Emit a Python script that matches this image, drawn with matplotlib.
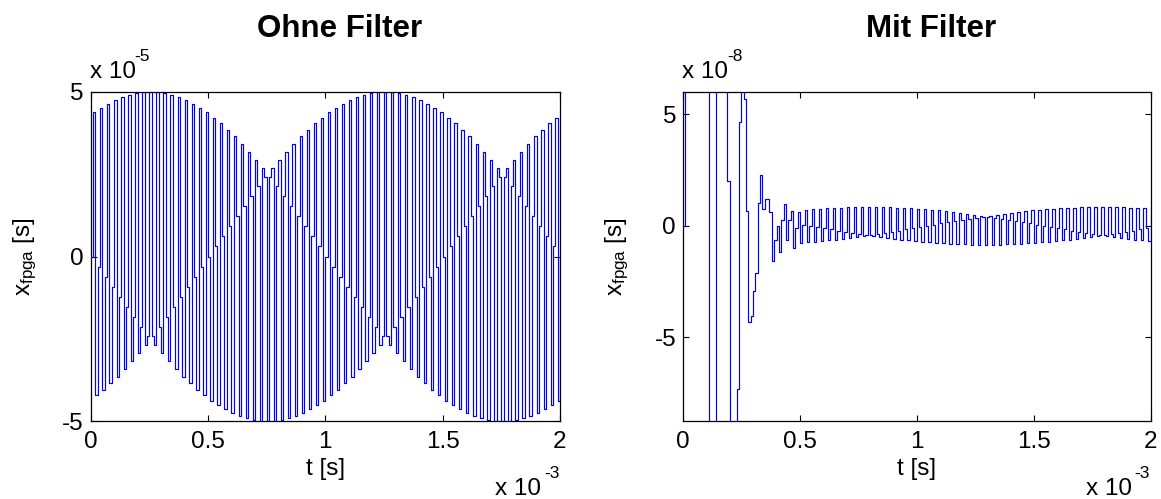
import numpy as np
import matplotlib
matplotlib.use("Agg")
import matplotlib.pyplot as plt
from matplotlib.ticker import FuncFormatter

plt.rcParams['font.family'] = ['Liberation Sans', 'DejaVu Sans']
plt.rcParams['mathtext.fontset'] = 'custom'
plt.rcParams['mathtext.rm'] = 'Liberation Sans'
plt.rcParams['mathtext.it'] = 'Liberation Sans'

# sample period of the fpga values [s]
Ts = 1e-5

# x_fpga without filter, units of 1e-5 s, samples 0..200
ohne_filter = [
    0, 4.38, -4.22, -0.31, 4.52, -4.05, -0.63, 4.65, -3.85, -0.94,
    4.76, -3.65, -1.24, 4.84, -3.42, -1.55, 4.91, -3.19, -1.84, 4.96,
    -2.94, -2.13, 4.99, -2.68, -2.41, 5.00, -2.41, -2.68, 4.99, -2.13,
    -2.94, 4.96, -1.84, -3.19, 4.91, -1.55, -3.42, 4.84, -1.24, -3.65,
    4.76, -0.94, -3.85, 4.65, -0.63, -4.05, 4.52, -0.31, -4.22, 4.38,
    0, -4.38, 4.22, 0.31, -4.52, 4.05, 0.63, -4.65, 3.85, 0.94,
    -4.76, 3.65, 1.24, -4.84, 3.42, 1.55, -4.91, 3.19, 1.84, -4.96,
    2.94, 2.13, -4.99, 2.68, 2.41, -5.00, 2.41, 2.68, -4.99, 2.13,
    2.94, -4.96, 1.84, 3.19, -4.91, 1.55, 3.42, -4.84, 1.24, 3.65,
    -4.76, 0.94, 3.85, -4.65, 0.63, 4.05, -4.52, 0.31, 4.22, -4.38,
    0, 4.38, -4.22, -0.31, 4.52, -4.05, -0.63, 4.65, -3.85, -0.94,
    4.76, -3.65, -1.24, 4.84, -3.42, -1.55, 4.91, -3.19, -1.84, 4.96,
    -2.94, -2.13, 4.99, -2.68, -2.41, 5.00, -2.41, -2.68, 4.99, -2.13,
    -2.94, 4.96, -1.84, -3.19, 4.91, -1.55, -3.42, 4.84, -1.24, -3.65,
    4.76, -0.94, -3.85, 4.65, -0.63, -4.05, 4.52, -0.31, -4.22, 4.38,
    0, -4.38, 4.22, 0.31, -4.52, 4.05, 0.63, -4.65, 3.85, 0.94,
    -4.76, 3.65, 1.24, -4.84, 3.42, 1.55, -4.91, 3.19, 1.84, -4.96,
    2.94, 2.13, -4.99, 2.68, 2.41, -5.00, 2.41, 2.68, -4.99, 2.13,
    2.94, -4.96, 1.84, 3.19, -4.91, 1.55, 3.42, -4.84, 1.24, 3.65,
    -4.76, 0.94, 3.85, -4.65, 0.63, 4.05, -4.52, 0.31, 4.22, -4.38,
    0,
]

# x_fpga with filter, units of 1e-8 s, samples 0..200
mit_filter = [
    0, 10, 18, 24, 27, 26, 22, 17, 12, 9,
    7, -12, -16, -10, 9, 14, 15, 12, 8, 2.0,
    -10, -13, -11, -7.3, 4.64, 8, 5.7, 0.67, -4.32, -4.06,
    -2.9, -2.13, 1.04, 2.26, 0.77, 1.19, 1.19, 0.6, -1.59, -0.64,
    -0.03, -1.16, 0.25, 0.97, -0.64, 0.25, 0.67, -1.0, -0.1, 0.6,
    -0.77, 0.05, 0.72, -0.74, 0, 0.74, -0.72, -0.05, 0.77, -0.69,
    -0.11, 0.79, -0.65, -0.16, 0.81, -0.62, -0.21, 0.82, -0.58, -0.26,
    0.83, -0.54, -0.31, 0.84, -0.50, -0.36, 0.85, -0.46, -0.41, 0.85,
    -0.41, -0.46, 0.85, -0.36, -0.50, 0.84, -0.31, -0.54, 0.83, -0.26,
    -0.58, 0.82, -0.21, -0.62, 0.81, -0.16, -0.65, 0.79, -0.11, -0.69,
    0.77, -0.05, -0.72, 0.74, 0, -0.74, 0.72, 0.05, -0.77, 0.69,
    0.11, -0.79, 0.65, 0.16, -0.81, 0.62, 0.21, -0.82, 0.58, 0.26,
    -0.83, 0.54, 0.31, -0.84, 0.50, 0.36, -0.85, 0.46, 0.41, -0.85,
    0.41, 0.46, -0.85, 0.36, 0.50, -0.84, 0.31, 0.54, -0.83, 0.26,
    0.58, -0.82, 0.21, 0.62, -0.81, 0.16, 0.65, -0.79, 0.11, 0.69,
    -0.77, 0.05, 0.72, -0.74, 0, 0.74, -0.72, -0.05, 0.77, -0.69,
    -0.11, 0.79, -0.65, -0.16, 0.81, -0.62, -0.21, 0.82, -0.58, -0.26,
    0.83, -0.54, -0.31, 0.84, -0.50, -0.36, 0.85, -0.46, -0.41, 0.85,
    -0.41, -0.46, 0.85, -0.36, -0.50, 0.84, -0.31, -0.54, 0.83, -0.26,
    -0.58, 0.82, -0.21, -0.62, 0.81, -0.16, -0.65, 0.79, -0.11, -0.69,
    0.77,
]

titles = ['Ohne Filter', 'Mit Filter']
y_scales = [1e-5, 1e-8]
y_limits = [(-5e-5, 5e-5), (-8.75e-8, 6e-8)]
y_ticks = [[-5e-5, 0, 5e-5], [-5e-8, 0, 5e-8]]
x_ticks = [0, 0.5e-3, 1e-3, 1.5e-3, 2e-3]
x_scale = 1e-3

W, H = 1161, 499
fig = plt.figure(figsize=(W / 100, H / 100), dpi=100)
fig.set_facecolor('white')

def px(x, y):
    return x / W, 1 - y / H

axes_px = [(90.7, 560.0), (683.0, 1150.5)]
top_px, bottom_px = 92.0, 421.0
FS = 17.5

series = [np.array(ohne_filter) * y_scales[0], np.array(mit_filter) * y_scales[1]]

for i in range(2):
    x0, x1 = axes_px[i]
    ax = fig.add_axes([x0 / W, 1 - bottom_px / H, (x1 - x0) / W, (bottom_px - top_px) / H])
    vals = series[i]
    t = np.arange(len(vals)) * Ts
    ax.plot(t, vals, drawstyle='steps-post', color='#0000ff', lw=0.85)

    ax.set_xlim(0, 2e-3)
    ax.set_ylim(*y_limits[i])
    ax.set_xticks(x_ticks)
    ax.set_yticks(y_ticks[i])
    sc = y_scales[i]
    ax.xaxis.set_major_formatter(FuncFormatter(lambda v, _: '%g' % round(v / x_scale, 6)))
    ax.yaxis.set_major_formatter(FuncFormatter(lambda v, _, sc=sc: '%g' % round(v / sc, 6)))
    ax.tick_params(direction='in', top=True, right=True, length=4.5, width=0.8,
                   labelsize=FS, pad=5)
    ax.tick_params(axis='x', pad=7)
    for s in ax.spines.values():
        s.set_linewidth(0.9)

    ax.set_xlabel('t [s]', fontsize=FS, labelpad=4)
    ax.set_ylabel(r'x$_{\mathrm{fpga}}$ [s]', fontsize=FS, labelpad=17)

    # title, slightly right of centre like the original
    cx = (x0 + x1) / 2 + 14
    fig.text(*px(cx, 37), titles[i], ha='center', va='baseline',
             fontsize=22.5, fontweight='bold')

    # exponent labels
    exp = '-5' if i == 0 else '-8'
    fig.text(*px(x0 - 0.5, 78), 'x 10', ha='left', va='baseline', fontsize=FS)
    fig.text(*px(x0 + 44, 61), exp, ha='left', va='baseline', fontsize=12.5)
    fig.text(*px(x1 - 65, 495), 'x 10', ha='left', va='baseline', fontsize=FS)
    fig.text(*px(x1 - 16, 478), '-3', ha='left', va='baseline', fontsize=12.5)

fig.savefig('out.png', dpi=100, facecolor='white')
